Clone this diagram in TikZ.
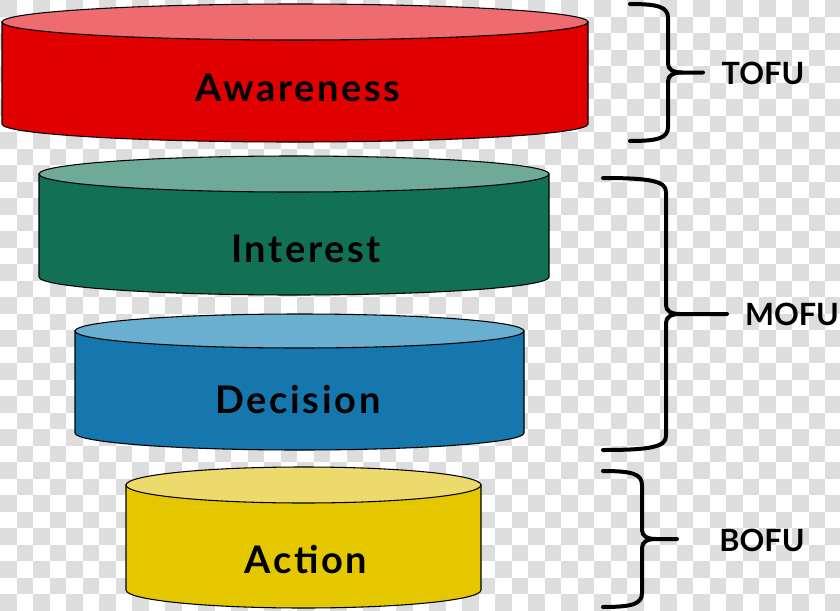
\documentclass[tikz,border=0pt]{standalone}
\usepackage{fontspec}
\setmainfont{Lato}
\usepackage{tikz}
\usetikzlibrary{positioning}

\definecolor{awareside}{HTML}{E00000}
\definecolor{awaretop}{HTML}{EE6B70}
\definecolor{interside}{HTML}{127155}
\definecolor{intertop}{HTML}{6FAA98}
\definecolor{decside}{HTML}{1577AE}
\definecolor{dectop}{HTML}{6BAFD0}
\definecolor{actside}{HTML}{E5C700}
\definecolor{acttop}{HTML}{EDDA6C}
\definecolor{checkgray}{HTML}{DDDDDD}

% one funnel disc: cx, rx, y of top, y of bottom, ry, side colour, top colour
\newcommand{\funneldisc}[7]{%
  \filldraw[disc, fill=#6] ({#1-#2},#3) -- ({#1-#2},#4)
    arc[start angle=180, end angle=0, x radius=#2, y radius=#5]
    -- ({#1+#2},#3) -- cycle;
  \filldraw[disc, fill=#7] (#1,#3) ellipse[x radius=#2, y radius=#5];
}

% curly bracket with flat tip: x of ends, y top, y bottom, x of stem, x of tip
\newcommand{\stagebrace}[5]{%
  \pgfmathsetmacro\ymid{(#2+#3)/2}
  \draw[bracket] (#1,#2) .. controls ({#1+0.75*(#4-#1)},#2) and (#4,{#2+3}) .. (#4,{#2+14})
    -- (#4,{\ymid-9}) .. controls (#4,{\ymid-3}) and ({#4+5},\ymid) .. ({#4+14},\ymid) -- (#5,\ymid);
  \draw[bracket] (#1,#3) .. controls ({#1+0.75*(#4-#1)},#3) and (#4,{#3-3}) .. (#4,{#3-14})
    -- (#4,{\ymid+9}) .. controls (#4,{\ymid+3}) and ({#4+5},\ymid) .. ({#4+14},\ymid);
}

\begin{document}
\begin{tikzpicture}[
    x=0.75pt, y=-0.75pt,
    disc/.style={draw=black, line width=0.8pt},
    bracket/.style={draw=black, line width=3pt, line cap=round},
    stage/.style={font=\fontsize{28.5}{30}\selectfont\bfseries\addfontfeatures{LetterSpace=7}, text=black, inner sep=0pt},
    tag/.style={font=\fontsize{23}{25}\selectfont\bfseries, text=black, inner sep=0pt},
    checker/.style={fill=checkgray},
]
\useasboundingbox (0,0) rectangle (840,611);

% transparency checkerboard
\begin{scope}
  \clip (0,0) rectangle (840,611);
  \fill[white] (0,0) rectangle (840,611);
  \foreach \i in {0,...,50} {
    \foreach \j in {0,...,37} {
      \ifodd\numexpr\i+\j\relax\else
        \fill[checker] (\i*16.5,\j*16.5) rectangle ++(16.5,16.5);
      \fi
    }
  }
\end{scope}

% funnel discs
\funneldisc{295}{293}{22}{124}{18}{awareside}{awaretop}
\funneldisc{294}{255}{174}{277}{18}{interside}{intertop}
\funneldisc{299.5}{224.5}{331}{433}{17}{decside}{dectop}
\funneldisc{303.5}{177.5}{485}{590}{18}{actside}{acttop}

\node[stage] (awareness) at (298,88) {Awareness};
\node[stage] (interest) at (306,249) {Interest};
\node[stage] (decision) at (298,400) {Decision};
\node[stage] (action) at (306,560) {Action};

% stage brackets
\stagebrace{630}{4}{141}{668}{703}
\stagebrace{603}{178}{450}{666}{727}
\stagebrace{603}{471}{607}{642}{677}

\node[tag] (tofu) at (763,73) {TOFU};
\node[tag] (mofu) at (792,314) {MOFU};
\node[tag] (bofu) at (762,540) {BOFU};

\end{tikzpicture}
\end{document}
